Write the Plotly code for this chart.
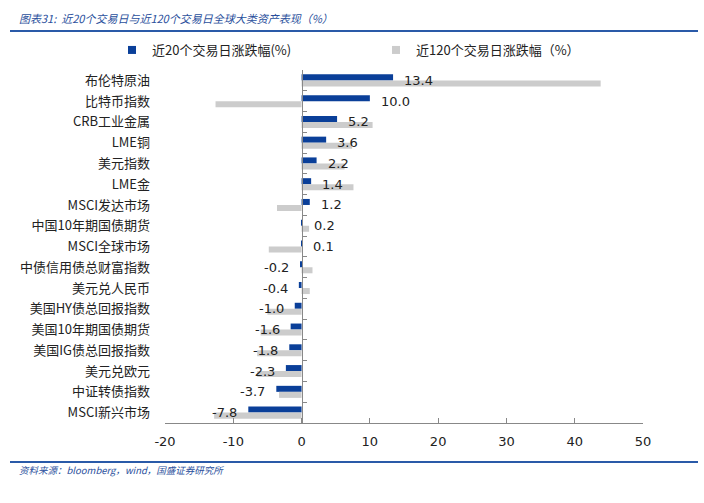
import plotly.graph_objects as go

categories = ["布伦特原油", "比特币指数", "CRB工业金属", "LME铜", "美元指数", "LME金",
              "MSCI发达市场", "中国10年期国债期货", "MSCI全球市场", "中债信用债总财富指数",
              "美元兑人民币", "美国HY债总回报指数", "美国10年期国债期货", "美国IG债总回报指数",
              "美元兑欧元", "中证转债指数", "MSCI新兴市场"]
chg20 = [13.4, 10.0, 5.2, 3.6, 2.2, 1.4, 1.2, 0.2, 0.1, -0.2, -0.4, -1.0, -1.6, -1.8, -2.3, -3.7, -7.8]
chg120 = [43.8, -12.6, 10.4, 7.4, 6.3, 7.6, -3.6, 1.1, -4.8, 1.6, 1.2, -5.0, -6.0, -6.5, -6.5, -3.3, -12.8]
x_ticks = [-20, -10, 0, 10, 20, 30, 40, 50]
x_tick_labels = ["-20", "-10", "0", "10", "20", "30", "40", "50"]

name20 = "近20个交易日涨跌幅(%)"
name120 = "近120个交易日涨跌幅（%）"
title = "图表31:  近20个交易日与近120个交易日全球大类资产表现（%）"
source = "资料来源：bloomberg，wind，国盛证券研究所"

BLUE = "#0a3f99"
GRAY = "#cccccc"
NUMFONT = "DejaVu Sans, Verdana, sans-serif"
CJK = "Noto Sans CJK SC, sans-serif"

L, R, T, B = 165, 61, 70, 80
W, H = 704, 503
PW, PH = W - L - R, H - T - B


def px_x(x):
    return (x - L) / PW


def px_y(y):
    return (H - B - y) / PH


fig = go.Figure()
fig.add_trace(go.Bar(y=categories, x=chg20, orientation="h", name=name20, showlegend=False,
                     marker=dict(color=BLUE, line=dict(width=0))))
fig.add_trace(go.Bar(y=categories, x=chg120, orientation="h", name=name120, showlegend=False,
                     marker=dict(color=GRAY, line=dict(width=0))))
# legend entries with small square swatches
for nm, col in ((name20, BLUE), (name120, GRAY)):
    fig.add_trace(go.Scatter(x=[None], y=[None], mode="markers", name=nm,
                             marker=dict(symbol="square", size=8, color=col, line=dict(width=0))))
# invisible trace for the zero-position axis with boundary ticks
fig.add_trace(go.Scatter(y=categories, x=[0] * len(categories), yaxis="y2", mode="markers",
                         marker=dict(opacity=0), showlegend=False, hoverinfo="skip"))

for c, v in zip(categories, chg20):
    fig.add_annotation(x=v, y=c, text=f"{v:.1f}", showarrow=False,
                       xanchor="left" if v >= 0 else "right",
                       xshift=9 if v >= 0 else -9, yshift=0,
                       font=dict(family=NUMFONT, size=13, color="#222222"))

xmin, xmax = -20, 50
yrange = [len(categories) - 0.5, -0.5]
fig.update_layout(
    width=W, height=H,
    margin=dict(l=L, r=R, t=T, b=B, autoexpand=False),
    paper_bgcolor="white", plot_bgcolor="white",
    barmode="group", bargap=0.42, bargroupgap=0.0,
    font=dict(family=CJK, size=13, color="#222222"),
    showlegend=True,
    legend=dict(orientation="h", x=px_x(112), xanchor="left", y=px_y(50), yanchor="middle",
                font=dict(family=CJK, size=13, color="#222222"),
                entrywidth=219, entrywidthmode="pixels",
                itemwidth=30, traceorder="normal", bgcolor="rgba(0,0,0,0)"),
    xaxis=dict(range=[xmin, xmax], tickvals=x_ticks, ticktext=x_tick_labels,
               showgrid=False, zeroline=False,
               showline=True, linecolor="#888888", linewidth=1,
               ticks="inside", ticklen=5, tickcolor="#888888", ticklabelstandoff=6,
               tickfont=dict(family=NUMFONT, size=13, color="#222222"),
               automargin=False),
    yaxis=dict(categoryorder="array", categoryarray=categories, range=yrange, autorange=False,
               showgrid=False, zeroline=False, showline=False, ticks="",
               ticklabelstandoff=14, automargin=False,
               tickfont=dict(family=CJK, size=13, color="#222222")),
    yaxis2=dict(overlaying="y", anchor="free", range=yrange, autorange=False,
                position=(0 - xmin) / (xmax - xmin),
                showticklabels=False, showgrid=False, zeroline=False,
                showline=True, linecolor="#888888", linewidth=1,
                ticks="inside", ticklen=4, tickcolor="#888888", tickson="boundaries",
                categoryorder="array", categoryarray=categories),
)

# title, separators, source
fig.add_annotation(text="<i>" + title + "</i>", xref="paper", yref="paper", x=px_x(17), y=px_y(18),
                   xanchor="left", yanchor="middle", showarrow=False,
                   font=dict(family=CJK, size=11, color="#2a4f9c"))
fig.add_annotation(text="<i>" + source + "</i>", xref="paper", yref="paper",
                   x=px_x(17), y=px_y(470),
                   xanchor="left", yanchor="middle", showarrow=False,
                   font=dict(family=CJK, size=9.5, color="#2a4f9c"))
for ypix in (31, 462):
    fig.add_shape(type="line", xref="paper", yref="paper",
                  x0=px_x(10), x1=px_x(698), y0=px_y(ypix), y1=px_y(ypix),
                  line=dict(color="#2a5aa8", width=2))

fig.write_html("out.html", config={"displayModeBar": False},
               post_script="document.body.style.margin='0';")
